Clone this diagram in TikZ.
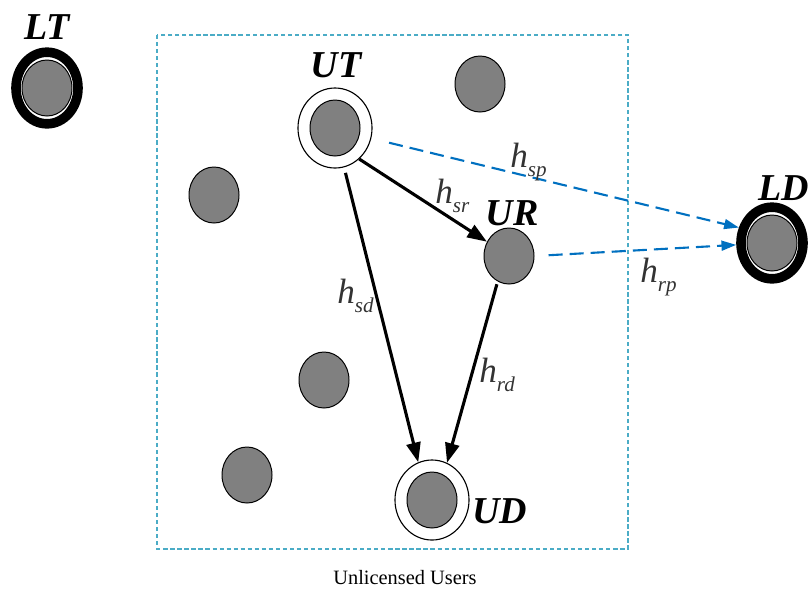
\documentclass[tikz,border=0pt]{standalone}
\usepackage{fontspec}
\setmainfont{Liberation Serif}
\usepackage{tikz}
\usetikzlibrary{arrows.meta,shapes.geometric}

\definecolor{boxcyan}{RGB}{75,172,198}
\definecolor{linkblue}{RGB}{0,112,192}
\definecolor{usergray}{RGB}{128,128,128}

\newcommand{\chan}[1]{{\fontsize{25}{25}\selectfont\itshape h}\raisebox{-6.5pt}{\fontsize{15}{15}\selectfont\itshape #1}}

\begin{document}
\begin{tikzpicture}[
    x=0.025cm, y=-0.025cm,
    user/.style={ellipse, draw, line width=0.7pt, fill=usergray,
                 minimum width=1.25cm, minimum height=1.4cm, inner sep=0pt},
    ring/.style={ellipse, draw, line width=0.8pt,
                 minimum width=1.85cm, minimum height=2cm,
                 inner sep=0pt, outer sep=0.4pt},
    lring/.style={ellipse, draw, line width=0.24cm,
                  minimum width=1.55cm, minimum height=1.79cm,
                  inner sep=0pt, outer sep=0.12cm},
    tag/.style={font=\fontsize{27}{27}\selectfont\bfseries\itshape, inner sep=0pt},
    chn/.style={text=black!80, inner sep=0pt, anchor=base west},
    arr/.style={-{Triangle[length=14pt,width=10pt]}, line width=2.2pt},
    parr/.style={-{Triangle[length=10.5pt,width=7pt]}, line width=1.5pt,
                 linkblue, dash pattern=on 10pt off 5pt}
  ]
    \useasboundingbox (0,0) rectangle (810,588);
    % unlicensed area
    \draw[boxcyan, line width=1pt, dash pattern=on 3pt off 2pt]
      (157,35) rectangle (628,549);
    \node[anchor=base, font=\fontsize{14.5}{14.5}\selectfont, inner sep=0pt]
      (area) at (405,584) {Unlicensed Users};
    % licensed pair
    \node[lring] (LTring) at (47,88) {};
    \node[user]  (LT) at (47,88) {};
    \node[lring] (LDring) at (772,243) {};
    \node[user]  (LD) at (772,243) {};
    % unlicensed users
    \node[ring] (UTring) at (335,128) {};
    \node[user] (UT) at (335,128) {};
    \node[user] (UR) at (509,256) {};
    \node[ring] (UDring) at (432,500) {};
    \node[user] (UD) at (432,500) {};
    \node[user] (U1) at (480,84) {};
    \node[user] (U2) at (214,195) {};
    \node[user] (U3) at (324,380) {};
    \node[user] (U4) at (247,475) {};
    % names
    \node[tag, anchor=base] (LTname) at (47,39) {LT};
    \node[tag, anchor=base] (UTname) at (336,77) {UT};
    \node[tag, anchor=base] (URname) at (512,225) {UR};
    \node[tag, anchor=base west] (UDname) at (472,523) {UD};
    \node[tag, anchor=base east] (LDname) at (809,200) {LD};
    % links
    \draw[arr] (UTring.-52) -- (UR);
    \draw[arr, shorten <=4pt] (UTring.-77) -- (UDring.110);
    \draw[arr, shorten <=2pt] (UR.-114) -- (UDring.68);
    \draw[parr, shorten <=13pt] (UTring.-16) -- (LDring.155);
    \draw[parr, shorten <=10pt] (UR.east) -- (LDring.183);
    % channel gains
    \node[chn] (hsp) at (510,167) {\chan{sp}};
    \node[chn] (hsr) at (435,203) {\chan{sr}};
    \node[chn] (hsd) at (337,303) {\chan{sd}};
    \node[chn] (hrd) at (479,382) {\chan{rd}};
    \node[chn] (hrp) at (640,282) {\chan{rp}};
  \end{tikzpicture}
\end{document}
